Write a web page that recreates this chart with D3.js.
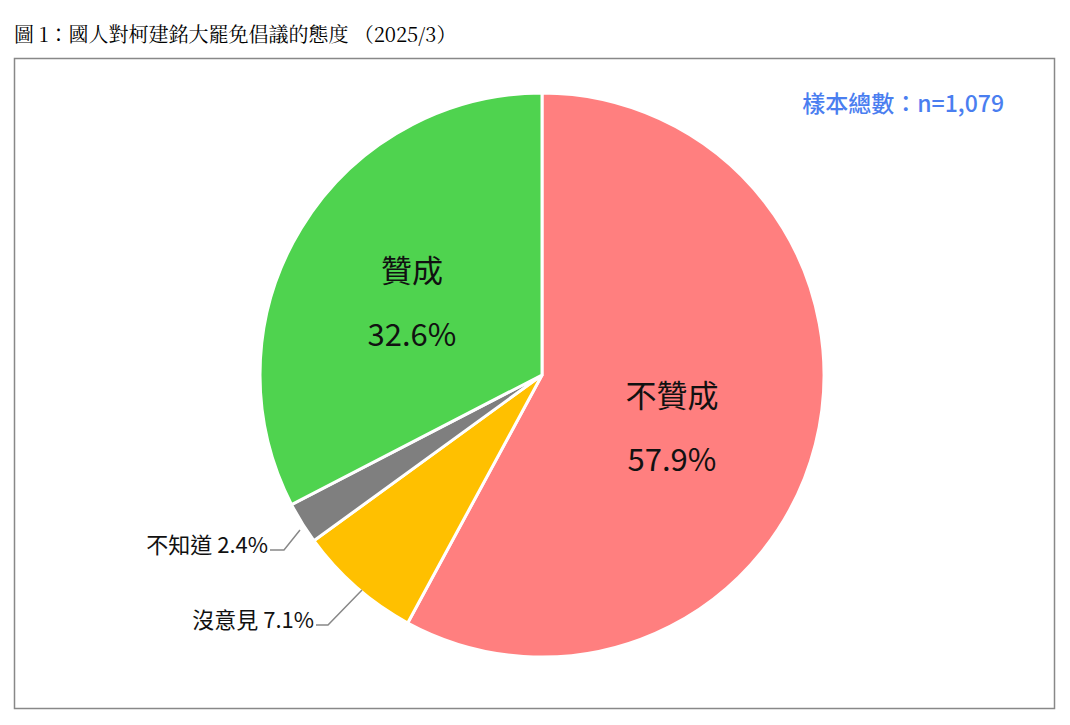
<!DOCTYPE html><html><head><meta charset="utf-8"><script src="https://cdn.jsdelivr.net/npm/d3@7"></script>
<style>body{margin:0;background:#fff}</style></head><body><svg id="c" width="1070" height="725"></svg>
<script>
const categories=["不贊成","沒意見","不知道","贊成"];
const values=[57.9,7.1,2.4,32.6];
const colors=["#ff7f7f","#ffc000","#7f7f7f","#4fd34f"];
const svg=d3.select("#c");
const font="'Noto Sans CJK TC','Noto Sans',sans-serif";
svg.append("text").attr("x",14).attr("y",42).attr("font-family","'Noto Serif CJK TC','AR PL UMing TW','Noto Sans CJK TC',serif").attr("font-size",20).attr("fill","#000").text("圖 1：國人對柯建銘大罷免倡議的態度 （2025/3）");
svg.append("rect").attr("x",14.5).attr("y",58.5).attr("width",1040).attr("height",650).attr("fill","none").attr("stroke","#888").attr("stroke-width",1.5);
svg.append("text").attr("x",1004).attr("y",112).attr("text-anchor","end").attr("font-family",font).attr("font-size",23).attr("font-weight",500).attr("fill","#4a7ef0").text("樣本總數：n=1,079");
const cx=542,cy=375,r=282;
const pie=d3.pie().sort(null)(values);
const arc=d3.arc().innerRadius(0).outerRadius(r);
const g=svg.append("g").attr("transform",`translate(${cx},${cy})`);
g.selectAll("path").data(pie).join("path").attr("d",arc).attr("fill",(d,i)=>colors[i]).attr("stroke","#fff").attr("stroke-width",3);
// inside labels
const inside=[{i:0,x:672,y:397},{i:3,x:412,y:272}];
inside.forEach(o=>{
 svg.append("text").attr("x",o.x).attr("y",o.y+10).attr("text-anchor","middle").attr("font-family",font).attr("font-size",31).attr("fill","#111").text(categories[o.i]);
 svg.append("text").attr("x",o.x).attr("y",o.y+74).attr("text-anchor","middle").attr("font-family",font).attr("font-size",31).attr("fill","#111").text(values[o.i].toFixed(1)+"%");
});
// outside labels
const outside=[{i:2,x:268,y:545,lx:[270,284,300],ly:[550,550,530]},{i:1,x:314,y:620,lx:[316,328,362],ly:[625,625,590]}];
outside.forEach(o=>{
 svg.append("text").attr("x",o.x).attr("y",o.y+8).attr("text-anchor","end").attr("font-family",font).attr("font-size",22).attr("fill","#111").text(categories[o.i]+" "+values[o.i].toFixed(1)+"%");
 svg.append("polyline").attr("points",o.lx.map((x,k)=>x+","+o.ly[k]).join(" ")).attr("fill","none").attr("stroke","#888").attr("stroke-width",1.5);
});
</script></body></html>
